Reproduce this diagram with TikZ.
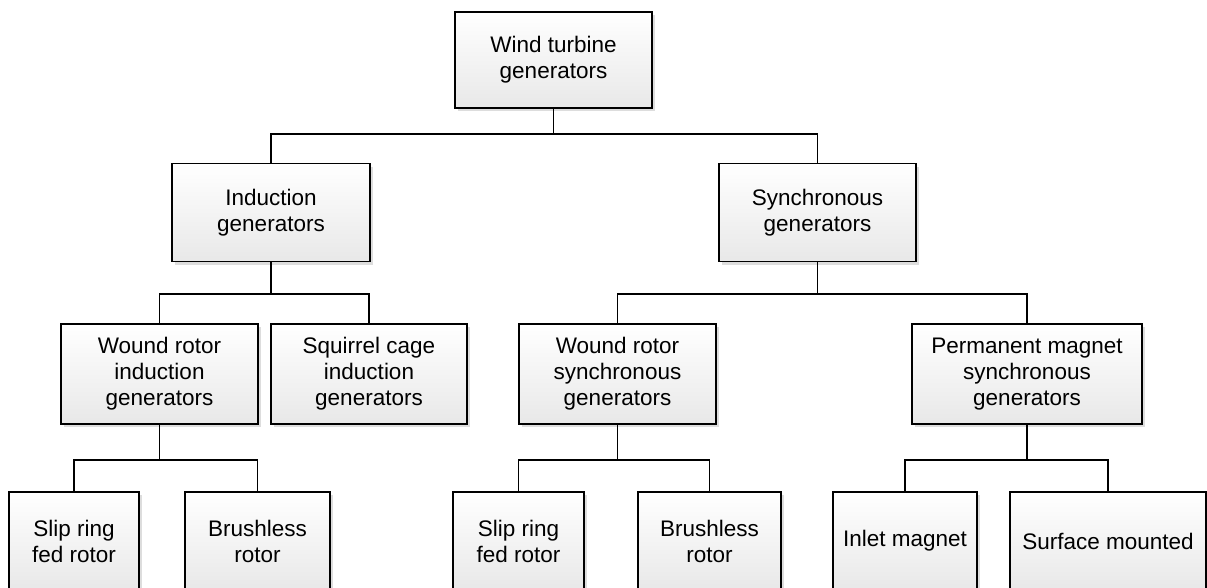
\documentclass[tikz,border=0pt]{standalone}
\usepackage{fontspec}
\setmainfont{Liberation Sans}
\usepackage{tikz}
\usetikzlibrary{shadows, positioning}

\begin{document}
\begin{tikzpicture}[x=1pt, y=-1pt]
	\tikzstyle{genbox} = [draw, line width=1.7pt, rectangle, align=center, inner sep=0pt,
		top color=white, bottom color=gray!18, minimum height=98pt,
		font=\fontsize{22.5}{26}\selectfont,
		drop shadow={shadow xshift=3pt, shadow yshift=-3pt, fill=black!22, opacity=0.6}]
	\tikzstyle{wire} = [line width=1.6pt]

	\useasboundingbox (0,0) rectangle (1207,587);

	% top level
	\node[genbox, minimum width=197pt, minimum height=96pt] (wtg) at (553.5,60) {Wind turbine\\generators};

	% second level
	\node[genbox, minimum width=198pt] (ig) at (271,212.5) {Induction\\generators};
	\node[genbox, minimum width=197pt] (sg) at (817.5,212.5) {Synchronous\\generators};

	% third level
	\node[genbox, minimum width=197pt, minimum height=100pt] (wrig) at (159.5,374) {Wound rotor\\induction\\generators};
	\node[genbox, minimum width=196pt, minimum height=100pt] (scig) at (369,374) {Squirrel cage\\induction\\generators};
	\node[genbox, minimum width=197pt, minimum height=100pt] (wrsg) at (617.5,374) {Wound rotor\\synchronous\\generators};
	\node[genbox, minimum width=230pt, minimum height=100pt] (pmsg) at (1027,374) {Permanent magnet\\synchronous\\generators};

	% fourth level
	\node[genbox, minimum width=130pt] (srig) at (74,541) {Slip ring\\fed rotor};
	\node[genbox, minimum width=145pt] (brig) at (257.5,541) {Brushless\\rotor};
	\node[genbox, minimum width=131pt] (srsg) at (518.5,541) {Slip ring\\fed rotor};
	\node[genbox, minimum width=143pt] (brsg) at (709.5,541) {Brushless\\rotor};
	\node[genbox, minimum width=144pt] (inlet) at (905,541) {Inlet magnet};
	\node[genbox, minimum width=196pt] (surf) at (1108,541) {Surface mounted};

	% connectors
	\foreach \child in {ig, sg}
		\draw[wire] (wtg.south) -- ++(0,25) -| (\child.north);
	\foreach \child in {wrig, scig}
		\draw[wire] (ig.south) -- ++(0,31.5) -| (\child.north);
	\foreach \child in {wrsg, pmsg}
		\draw[wire] (sg.south) -- ++(0,31.5) -| (\child.north);
	\foreach \child in {srig, brig}
		\draw[wire] (wrig.south) -- ++(0,35) -| (\child.north);
	\foreach \child in {srsg, brsg}
		\draw[wire] (wrsg.south) -- ++(0,35) -| (\child.north);
	\foreach \child in {inlet, surf}
		\draw[wire] (pmsg.south) -- ++(0,35) -| (\child.north);
\end{tikzpicture}
\end{document}
